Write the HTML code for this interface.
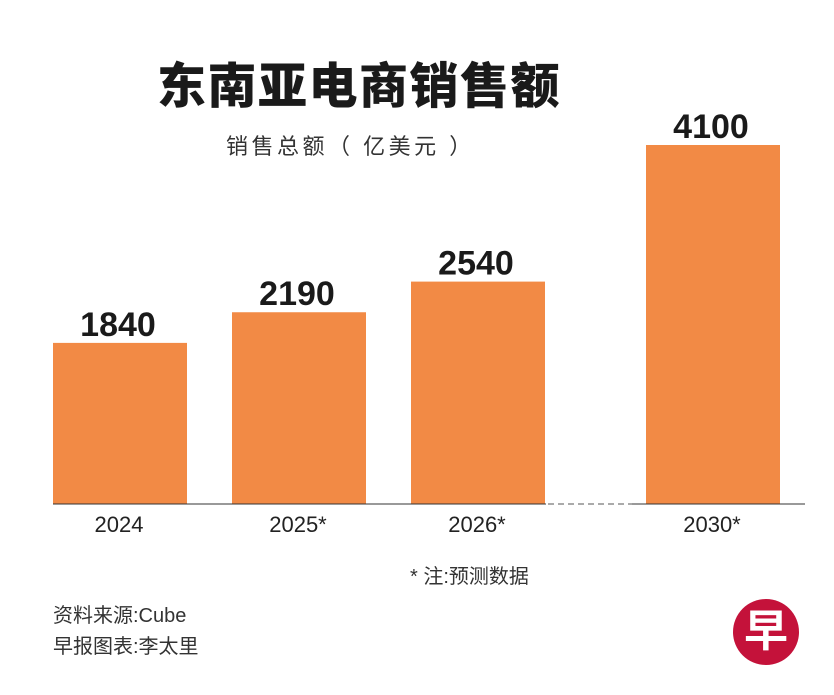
<!DOCTYPE html>
<html><head><meta charset="utf-8"><style>
body{margin:0;background:#fff;width:834px;height:695px;overflow:hidden;position:relative;font-family:"Liberation Sans","Noto Sans CJK SC",sans-serif;}
.t{position:absolute;white-space:nowrap;}
</style></head><body>
<div class="t" style="left:157px;top:47px;font-size:49px;font-weight:900;color:#1a1a1a;letter-spacing:1.5px;">东南亚电商销售额</div>
<div class="t" style="left:226px;top:129px;font-size:22px;color:#333;letter-spacing:3.5px;">销售总额（ 亿美元 ）</div>
<svg id="chart" width="834" height="695" style="position:absolute;left:0;top:0"></svg>
<div class="t" style="left:410px;top:560px;font-size:20px;color:#333;">* 注:预测数据</div>
<div class="t" style="left:53px;top:599px;font-size:20px;color:#333;">资料来源:Cube</div>
<div class="t" style="left:53px;top:630px;font-size:20px;color:#333;">早报图表:李太里</div>
<div style="position:absolute;left:733px;top:599px;width:66px;height:66px;border-radius:50%;background:#c4123a;color:#fff;font-size:44px;line-height:66px;text-align:center;font-weight:bold;">早</div>
<script>
const categories=["2024","2025*","2026*","2030*"];
const values=[1840,2190,2540,4100];
const labels=["1840","2190","2540","4100"];
const svg=document.getElementById('chart');
const NS='http://www.w3.org/2000/svg';
const baseY=504, scale=359/4100;
const xLeft=[53,232,411,646], bw=134;
function y(v){return baseY-v*scale;}
function mk(t,a){const e=document.createElementNS(NS,t);for(const k in a)e.setAttribute(k,a[k]);svg.appendChild(e);return e;}
categories.forEach((c,i)=>{
  const r=mk('rect',{x:xLeft[i],y:y(values[i]),width:bw,height:baseY-y(values[i]),fill:'#f28a45'});
  
  
  const v=mk('text',{x:xLeft[i]+bw/2-2,y:y(values[i])-7,'text-anchor':'middle','font-size':34,'font-weight':'bold',fill:'#1a1a1a','font-family':'Liberation Sans, sans-serif'});
  v.textContent=labels[i];
  
  
  const l=mk('text',{x:xLeft[i]+bw/2-1,y:532,'text-anchor':'middle','font-size':22,fill:'#222','font-family':'Liberation Sans, sans-serif'});
  l.textContent=c;
  
  
});
let a=mk('line',{x1:53,y1:baseY,x2:546,y2:baseY,stroke:'#333','stroke-width':1});

a=mk('line',{x1:548,y1:baseY,x2:632,y2:baseY,stroke:'#555','stroke-width':1,'stroke-dasharray':'6,4'});

a=mk('line',{x1:632,y1:baseY,x2:805,y2:baseY,stroke:'#333','stroke-width':1});

</script>
</body></html>
